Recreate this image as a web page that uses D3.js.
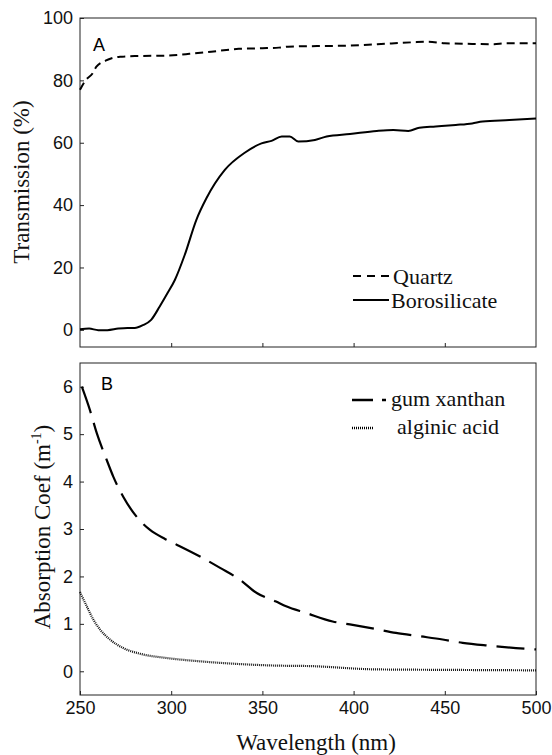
<!DOCTYPE html>
<html>
<head>
<meta charset="utf-8">
<script src="https://cdn.jsdelivr.net/npm/d3@7"></script>
<style>
  body { margin: 0; background: #fff; }
  svg .tick text { font-family: 'Liberation Sans', Arimo, Arial, sans-serif; font-size: 18px; fill: #111; }
  svg .tick line { stroke: #222; }
  svg text.serif { font-family: 'Liberation Serif', Tinos, 'Times New Roman', 'DejaVu Serif', serif; fill: #111; }
</style>
</head>
<body>
<div id="chart"></div>
<script>
// panel A: transmission (%)
const wlQuartz = [250, 253, 257, 259, 264, 268, 273, 280, 295, 310, 322, 337, 350, 359, 364, 380, 395, 413, 432, 441, 450, 465, 477, 483, 500];
const quartz = [77, 80, 82.3, 84.4, 86.3, 87.2, 87.6, 87.8, 87.9, 88.5, 89.2, 90.1, 90.3, 90.5, 90.8, 91, 91.1, 91.6, 92.2, 92.4, 91.9, 91.7, 91.6, 91.9, 91.9];

const wlBoro = [250, 255, 260, 265, 271, 276, 280, 284.5, 289, 293.7, 298, 302, 307.4, 313.8, 319.3, 329.4, 340.3, 349.5, 355, 360.6, 365, 369.7, 378.8, 385.2, 398, 412.7, 421.8, 430, 436, 445, 456, 465, 470.7, 485.4, 500];
const boro = [0.2, 0.4, -0.1, -0.1, 0.4, 0.6, 0.6, 1.5, 3.2, 7.5, 11.8, 16, 24, 35.3, 42.2, 51.3, 56.8, 59.8, 60.6, 62, 62, 60.4, 60.9, 62, 62.8, 63.8, 64.1, 63.8, 64.8, 65.2, 65.7, 66.2, 66.8, 67.3, 67.8];

// panel B: absorption coefficient (m-1)
const wlGum = [251, 255.5, 259.2, 264.6, 268.3, 273.7, 281, 288.4, 296.6, 303, 315.8, 326.8, 337.7, 346.9, 357.5, 363, 373.9, 388.5, 399.5, 412.3, 423.2, 436, 448.8, 459.8, 474.4, 489, 500];
const gum = [6.0, 5.5, 5.02, 4.46, 4.1, 3.68, 3.26, 2.98, 2.79, 2.67, 2.42, 2.18, 1.93, 1.65, 1.47, 1.37, 1.23, 1.05, 0.98, 0.89, 0.81, 0.74, 0.67, 0.6, 0.54, 0.49, 0.46];

const wlAlg = [250, 253.7, 257.3, 261, 266.4, 273.7, 282.9, 297.5, 315.8, 334, 357.5, 375.7, 412.3, 450, 500];
const alg = [1.67, 1.37, 1.09, 0.88, 0.67, 0.49, 0.37, 0.28, 0.21, 0.16, 0.12, 0.11, 0.04, 0.03, 0.02];

const xTicks = [250, 300, 350, 400, 450, 500];
const yTicksA = [0, 20, 40, 60, 80, 100];
const yTicksB = [0, 1, 2, 3, 4, 5, 6];

const SERIF = "'Liberation Serif', Tinos, 'Times New Roman', 'DejaVu Serif', serif";
const SANS = "'Liberation Sans', Arimo, Arial, sans-serif";

const svg = d3.select('#chart').append('svg')
    .attr('width', 552).attr('height', 755);

const left = 80, right = 536;
const x = d3.scaleLinear().domain([250, 500]).range([left, right]);
const yA = d3.scaleLinear().domain([-5.5, 100]).range([347, 18]);
const yB = d3.scaleLinear().domain([-0.5, 6.5]).range([695, 363]);

function zip(xs, ys) { return xs.map((d, i) => [d, ys[i]]); }

function panel(y, yTicks, showXLabels) {
    const g = svg.append('g');
    const top = y.range()[1], bottom = y.range()[0];

    let ya = d3.axisLeft(y).tickValues(yTicks).tickSize(-4).tickPadding(7).tickFormat(d3.format('d'));
    g.append('g').attr('transform', 'translate(' + left + ',0)').call(ya)
        .call(s => s.select('.domain').remove())
        .attr('font-family', SANS).attr('font-size', 18);

    let xa = d3.axisBottom(x).tickSize(-4).tickPadding(6);
    if (showXLabels) {
        xa.tickValues(xTicks).tickFormat(d3.format('d'));
    } else {
        xa.tickValues(xTicks.slice(1, -1)).tickFormat('');
    }
    g.append('g').attr('transform', 'translate(0,' + bottom + ')').call(xa)
        .call(s => s.select('.domain').remove())
        .attr('font-family', SANS).attr('font-size', 18);

    g.append('rect')
        .attr('x', left).attr('y', top)
        .attr('width', right - left).attr('height', bottom - top)
        .attr('fill', 'none').attr('stroke', '#222').attr('stroke-width', 1);
    return g;
}

const gA = panel(yA, yTicksA, false);
const gB = panel(yB, yTicksB, true);

const lineA = d3.line().x(d => x(d[0])).y(d => yA(d[1])).curve(d3.curveMonotoneX);
const lineB = d3.line().x(d => x(d[0])).y(d => yB(d[1])).curve(d3.curveMonotoneX);

gA.append('path').datum(zip(wlQuartz, quartz)).attr('d', lineA)
    .attr('fill', 'none').attr('stroke', '#000').attr('stroke-width', 2)
    .attr('stroke-dasharray', '8,5');
gA.append('path').datum(zip(wlBoro, boro)).attr('d', lineA)
    .attr('fill', 'none').attr('stroke', '#000').attr('stroke-width', 2);

gB.append('path').datum(zip(wlGum, gum)).attr('d', lineB)
    .attr('fill', 'none').attr('stroke', '#000').attr('stroke-width', 2.2)
    .attr('stroke-dasharray', '28,10');
gB.append('path').datum(zip(wlAlg, alg)).attr('d', lineB)
    .attr('fill', 'none').attr('stroke', '#111').attr('stroke-width', 2.2)
    .attr('stroke-dasharray', '1,1');

// panel letters
svg.append('text').attr('x', 93).attr('y', 51).text('A')
    .attr('font-family', SANS).attr('font-size', 18);
svg.append('text').attr('x', 101).attr('y', 390).text('B')
    .attr('font-family', SANS).attr('font-size', 18);

// legends
const legA = [
    { name: 'Quartz', dash: '8,6', y: 276, tx: 393 },
    { name: 'Borosilicate', dash: null, y: 300, tx: 391 }
];
legA.forEach(d => {
    svg.append('line').attr('x1', 353).attr('x2', 389).attr('y1', d.y).attr('y2', d.y)
        .attr('stroke', '#000').attr('stroke-width', 2)
        .attr('stroke-dasharray', d.dash);
    svg.append('text').attr('class', 'serif').attr('x', d.tx).attr('y', d.y + 8)
        .attr('font-family', SERIF).attr('font-size', 22).text(d.name);
});

const legB = [
    { name: 'gum xanthan', dash: '21,9,4,100', y: 400, tx: 391, x2: 386 },
    { name: 'alginic acid', dash: '1,1', y: 428, tx: 397, x2: 373 }
];
legB.forEach(d => {
    svg.append('line').attr('x1', 352).attr('x2', d.x2)
        .attr('y1', d.y).attr('y2', d.y)
        .attr('stroke', '#000').attr('stroke-width', 2.4)
        .attr('stroke-dasharray', d.dash);
    svg.append('text').attr('class', 'serif').attr('x', d.tx).attr('y', d.y + 6)
        .attr('font-family', SERIF).attr('font-size', 22).text(d.name);
});

// axis titles
svg.append('text').attr('class', 'serif')
    .attr('transform', 'translate(29,182) rotate(-90)')
    .attr('text-anchor', 'middle').attr('font-family', SERIF).attr('font-size', 23)
    .text('Transmission (%)');

const tB = svg.append('text').attr('class', 'serif')
    .attr('transform', 'translate(50,527) rotate(-90)')
    .attr('text-anchor', 'middle').attr('font-family', SERIF).attr('font-size', 23);
tB.append('tspan').text('Absorption Coef (m');
tB.append('tspan').attr('dy', -9).attr('font-size', 14).text('-1');
tB.append('tspan').attr('dy', 9).text(')');

svg.append('text').attr('class', 'serif')
    .attr('x', 316).attr('y', 750)
    .attr('text-anchor', 'middle').attr('font-family', SERIF).attr('font-size', 23)
    .text('Wavelength (nm)');
</script>
</body>
</html>
